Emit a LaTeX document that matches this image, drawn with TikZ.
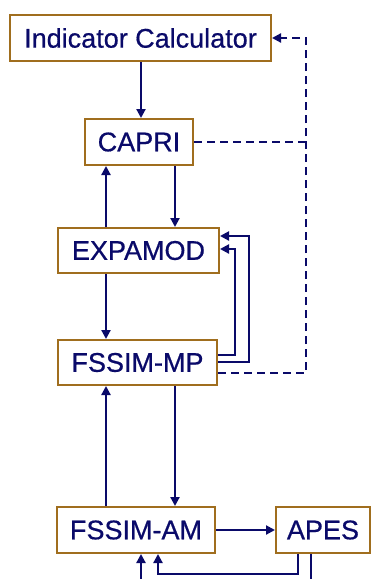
\documentclass[tikz,border=0pt]{standalone}
\usepackage{fontspec}
\setmainfont{Liberation Sans}
\newfontface\heavyface{Liberation Sans}[FakeBold=0.6]
\usetikzlibrary{arrows.meta}
\definecolor{navy}{RGB}{10,10,105}
\definecolor{gold}{RGB}{160,110,30}
\begin{document}
\begin{tikzpicture}[x=1pt,y=-1pt,
  box/.style={draw=gold, line width=2pt, fill=white, text=navy,
    font=\heavyface\fontsize{27}{30}\selectfont, inner sep=0pt, minimum height=46pt},
  link/.style={draw=navy, line width=2.1pt},
  tip/.style={-{Triangle[length=9pt,width=9pt]}},
  arr/.style={link, tip},
  dlink/.style={link, dash pattern=on 8pt off 5pt}]
\useasboundingbox (0,0) rectangle (371,579);
\node[box, minimum width=261pt] (ic) at (140.5,38) {Indicator Calculator};
\node[box, minimum width=108pt] (capri) at (139,142) {CAPRI};
\node[box, minimum width=161pt, minimum height=45pt] (exp) at (138.5,250.5) {EXPAMOD};
\node[box, minimum width=159pt, minimum height=45pt] (fmp) at (137.5,362.5) {FSSIM-MP};
\node[box, minimum width=158pt] (fam) at (136,530) {FSSIM-AM};
\node[box, minimum width=94pt] (apes) at (323,530) {APES};
% columns and rows
\coordinate (xa) at (141,0);
\coordinate (xl) at (106,0);
\coordinate (xr) at (175,0);
\coordinate (xd) at (306,0);
\coordinate (xo) at (249,0);
\coordinate (xi) at (235,0);
\coordinate (xb) at (158,0);
\coordinate (xp) at (298,0);
\coordinate (xq) at (311,0);
\coordinate (yo1) at (0,362);
\coordinate (yo2) at (0,236);
\coordinate (yi1) at (0,355);
\coordinate (yi2) at (0,249);
\coordinate (yd) at (0,373);
\coordinate (bot) at (0,574);
\coordinate (off) at (0,600);
% vertical links
\draw[arr] (ic.south -| xa) -- (capri.north -| xa);
\draw[arr] (capri.south -| xr) -- (exp.north -| xr);
\draw[arr] (exp.north -| xl) -- (capri.south -| xl);
\draw[arr] (exp.south -| xl) -- (fmp.north -| xl);
\draw[arr] (fmp.south -| xr) -- (fam.north -| xr);
\draw[arr] (fam.north -| xl) -- (fmp.south -| xl);
% feedback loops
\draw[arr] (fmp.east |- yo1) -| (xo |- yo2) -- (exp.east |- yo2);
\draw[arr] (fmp.east |- yi1) -| (xi |- yi2) -- (exp.east |- yi2);
% dashed links
\draw[dlink] (capri.east) -- (capri.east -| xd);
\draw[dlink, tip] (fmp.east |- yd) -| (xd |- ic.east) -- (ic.east);
% bottom
\draw[arr] (fam) -- (apes);
\draw[arr] (apes.south -| xp) |- (xb |- bot) -- (fam.south -| xb);
\draw[link] (apes.south -| xq) -- (xq |- off);
\draw[arr] (xa |- off) -- (fam.south -| xa);
\end{tikzpicture}
\end{document}
